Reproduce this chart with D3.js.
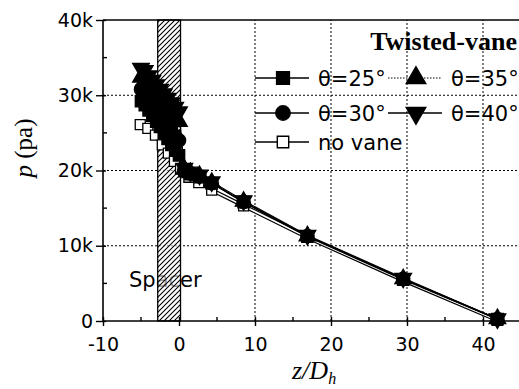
<!DOCTYPE html>
<html>
<head>
<meta charset="utf-8">
<script src="https://cdn.jsdelivr.net/npm/d3@7"></script>
<style>
  body { margin: 0; background: #fff; }
  svg { display: block; }
</style>
</head>
<body>
<svg id="chart" width="519" height="389"></svg>
<script>
// Axial positions (z/Dh) of the pressure taps for the twisted-vane runs
const zTwisted = [-5, -4.5, -4, -3.5, -3, -2.5, -2, -1.5, -1, -0.5, 0, 0.7, 1.5, 2.7, 4.3, 8.5, 16.9, 29.5, 41.9];
// Pressure (Pa) for each vane twist angle
const pTheta25 = [29200, 28700, 28000, 27300, 26500, 25800, 25000, 24200, 23400, 22700, 22000, 19900, 19500, 19100, 18300, 15800, 11200, 5500, 250];
const pTheta30 = [30800, 30300, 29700, 29000, 28300, 27600, 26800, 26000, 25200, 24500, 24000, 20000, 19600, 19200, 18300, 15800, 11300, 5600, 250];
const pTheta35 = [32400, 32000, 31300, 30700, 30000, 29400, 28700, 28000, 27500, 27000, 26500, 20200, 19700, 19300, 18400, 15900, 11300, 5600, 300];
const pTheta40 = [33600, 33300, 32600, 32000, 31400, 30800, 30200, 29600, 29000, 28400, 27800, 20300, 19800, 19400, 18500, 16000, 11400, 5700, 300];
// Reference run without vanes
const zNoVane = [-5.1, -4.1, -3.1, -2.2, -1.4, -0.6, 0.2, 1.3, 2.6, 4.3, 8.5, 16.9, 29.5, 41.9];
const pNoVane = [26100, 25600, 24700, 23400, 22300, 21200, 20200, 19100, 18400, 17400, 15300, 11100, 5400, 100];

const xTicks = [-10, 0, 10, 20, 30, 40];
const xMinorTicks = [-5, 5, 15, 25, 35];
const yTicks = [0, 10000, 20000, 30000, 40000];
const yMinorTicks = [5000, 15000, 25000, 35000];
const spacerRange = [-2.8, 0.2];

const seriesNames = ["θ=25°", "θ=30°", "θ=35°", "θ=40°", "no vane"];

const svg = d3.select("#chart");
const x = d3.scaleLinear().domain([-10, 45]).range([103, 521]);
const y = d3.scaleLinear().domain([0, 40000]).range([321, 20]);

const sansFont = "'DejaVu Sans', 'Liberation Sans', sans-serif";
const serifFont = "'Liberation Serif', 'Times New Roman', serif";

// hatch pattern for the spacer grid
const defs = svg.append("defs");
const pat = defs.append("pattern")
  .attr("id", "hatch").attr("patternUnits", "userSpaceOnUse")
  .attr("width", 5).attr("height", 5);
pat.append("path")
  .attr("d", "M-1,1 l2,-2 M0,5 l5,-5 M4,6 l2,-2")
  .attr("stroke", "#000").attr("stroke-width", 1.1);

// dotted grid
const grid = svg.append("g");
grid.selectAll("line.gx").data(xTicks.filter(d => d > 0)).join("line")
  .attr("x1", d => x(d)).attr("x2", d => x(d))
  .attr("y1", y(0)).attr("y2", y(40000))
  .attr("stroke", "#000").attr("stroke-width", 1).attr("stroke-dasharray", "2,2");
grid.selectAll("line.gy").data(yTicks.filter(d => d > 0 && d < 40000)).join("line")
  .attr("x1", x(-10)).attr("x2", 519)
  .attr("y1", d => y(d)).attr("y2", d => y(d))
  .attr("stroke", "#000").attr("stroke-width", 1).attr("stroke-dasharray", "2,2");

// Spacer label, partly covered by the hatched spacer band
svg.append("text")
  .attr("x", 129).attr("y", 287)
  .attr("font-family", sansFont).attr("font-size", 21)
  .text("Spacer");

svg.append("rect")
  .attr("x", x(spacerRange[0])).attr("y", y(40000))
  .attr("width", x(spacerRange[1]) - x(spacerRange[0]))
  .attr("height", y(0) - y(40000))
  .attr("fill", "#fff").attr("fill-opacity", 0.6);
svg.append("rect")
  .attr("x", x(spacerRange[0])).attr("y", y(40000))
  .attr("width", x(spacerRange[1]) - x(spacerRange[0]))
  .attr("height", y(0) - y(40000))
  .attr("fill", "url(#hatch)").attr("stroke", "#000").attr("stroke-width", 1.3);

// series
const triDown = {
  draw(ctx, size) {
    const s = Math.sqrt(size / (Math.sqrt(3) / 4));
    const h = s * Math.sqrt(3) / 2;
    ctx.moveTo(0, h * 2 / 3);
    ctx.lineTo(s / 2, -h / 3);
    ctx.lineTo(-s / 2, -h / 3);
    ctx.closePath();
  }
};
const triUp = {
  draw(ctx, size) {
    const s = Math.sqrt(size / (Math.sqrt(3) / 4));
    const h = s * Math.sqrt(3) / 2;
    ctx.moveTo(0, -h * 2 / 3);
    ctx.lineTo(s / 2, h / 3);
    ctx.lineTo(-s / 2, h / 3);
    ctx.closePath();
  }
};

const series = [
  { name: seriesNames[4], z: zNoVane, p: pNoVane, type: d3.symbolSquare, size: 100, fill: "#fff", dash: null, noVane: true },
  { name: seriesNames[0], z: zTwisted, p: pTheta25, type: d3.symbolSquare, size: 130, fill: "#000", dash: null },
  { name: seriesNames[1], z: zTwisted, p: pTheta30, type: d3.symbolCircle, size: 140, fill: "#000", dash: null },
  { name: seriesNames[2], z: zTwisted, p: pTheta35, type: triUp, size: 120, fill: "#000", dash: "1.5,1.5" },
  { name: seriesNames[3], z: zTwisted, p: pTheta40, type: triDown, size: 120, fill: "#000", dash: null }
];

const line = d3.line().x(d => x(d[0])).y(d => y(d[1]));
const plot = svg.append("g");

series.forEach(s => {
  const pts = s.z.map((z, i) => [z, s.p[i]]);
  if (s.noVane) {
    plot.append("path").attr("d", line(pts)).attr("fill", "none")
      .attr("stroke", "#000").attr("stroke-width", 4);
    plot.append("path").attr("d", line(pts)).attr("fill", "none")
      .attr("stroke", "#fff").attr("stroke-width", 1.6);
  } else {
    plot.append("path").attr("d", line(pts)).attr("fill", "none")
      .attr("stroke", "#000").attr("stroke-width", 1.2)
      .attr("stroke-dasharray", s.dash);
  }
  plot.selectAll(null).data(pts).join("path")
    .attr("transform", d => `translate(${x(d[0])},${y(d[1])})`)
    .attr("d", d3.symbol().type(s.type).size(s.size)())
    .attr("fill", s.fill).attr("stroke", "#000").attr("stroke-width", 1.3);
});

// axes
const xAxis = svg.append("g").attr("transform", `translate(0,${y(0)})`)
  .call(d3.axisBottom(x).tickValues(xTicks).tickSize(5).tickPadding(12)
    .tickFormat(d => String(d)));
xAxis.select(".domain").attr("d", `M${x(-10)},0H519`).attr("stroke-width", 1.6);
xAxis.selectAll(".tick line").attr("y1", -4).attr("y2", 5).attr("stroke-width", 1.4);
xAxis.selectAll(".tick text").attr("font-family", sansFont).attr("font-size", 19).attr("fill", "#000");
xAxis.selectAll("line.minor").data(xMinorTicks).join("line").attr("class", "minor")
  .attr("x1", d => x(d)).attr("x2", d => x(d)).attr("y1", -4).attr("y2", 0)
  .attr("stroke", "#000").attr("stroke-width", 1.4);

const yAxis = svg.append("g").attr("transform", `translate(${x(-10)},0)`)
  .call(d3.axisLeft(y).tickValues(yTicks).tickSize(7).tickPadding(3)
    .tickFormat(d => d === 0 ? "0" : (d / 1000) + "k"));
yAxis.select(".domain").attr("d", `M0,${y(0)}V${y(40000)}`).attr("stroke-width", 1.6);
yAxis.selectAll(".tick line").attr("x1", -7).attr("x2", 3).attr("stroke-width", 1.4);
yAxis.selectAll(".tick text").attr("font-family", sansFont).attr("font-size", 19).attr("fill", "#000");
yAxis.selectAll("line.minor").data(yMinorTicks).join("line").attr("class", "minor")
  .attr("y1", d => y(d)).attr("y2", d => y(d)).attr("x1", 0).attr("x2", 4)
  .attr("stroke", "#000").attr("stroke-width", 1.4);

// top frame line
svg.append("line").attr("x1", x(-10)).attr("x2", 519)
  .attr("y1", y(40000)).attr("y2", y(40000))
  .attr("stroke", "#000").attr("stroke-width", 1.6);

// axis titles
const yTitle = svg.append("text")
  .attr("transform", `translate(32,148) rotate(-90)`)
  .attr("text-anchor", "middle")
  .attr("font-family", serifFont).attr("font-size", 25);
yTitle.append("tspan").attr("font-style", "italic").text("p");
yTitle.append("tspan").text(" (pa)");

const xTitle = svg.append("text")
  .attr("x", 292).attr("y", 379)
  .attr("font-family", serifFont).attr("font-style", "italic").attr("font-size", 26);
xTitle.append("tspan").text("z/D");
xTitle.append("tspan").attr("font-size", 16).attr("dy", 5).text("h");

// legend
svg.append("text")
  .attr("x", 517).attr("y", 50).attr("text-anchor", "end")
  .attr("font-family", serifFont).attr("font-weight", "bold").attr("font-size", 26)
  .text("Twisted-vane");

const legendItems = [
  { s: series[1], x0: 255, cy: 78 },
  { s: series[3], x0: 388, cy: 78 },
  { s: series[2], x0: 255, cy: 113 },
  { s: series[4], x0: 388, cy: 113 },
  { s: series[0], x0: 255, cy: 142 }
];
const legend = svg.append("g");
legendItems.forEach(it => {
  const g = legend.append("g");
  g.append("line").attr("x1", it.x0).attr("x2", it.x0 + 54)
    .attr("y1", it.cy).attr("y2", it.cy)
    .attr("stroke", "#000").attr("stroke-width", it.s.dash ? 1 : 1.4)
    .attr("stroke-dasharray", it.s.dash);
  g.append("path")
    .attr("transform", `translate(${it.x0 + 28},${it.cy})`)
    .attr("d", d3.symbol().type(it.s.type).size(it.s.noVane ? 130 : 165)())
    .attr("fill", it.s.fill).attr("stroke", "#000").attr("stroke-width", 1.4);
  g.append("text").attr("x", it.x0 + 63).attr("y", it.cy + 8)
    .attr("font-family", sansFont).attr("font-size", 21)
    .text(it.s.name);
});
</script>
</body>
</html>
